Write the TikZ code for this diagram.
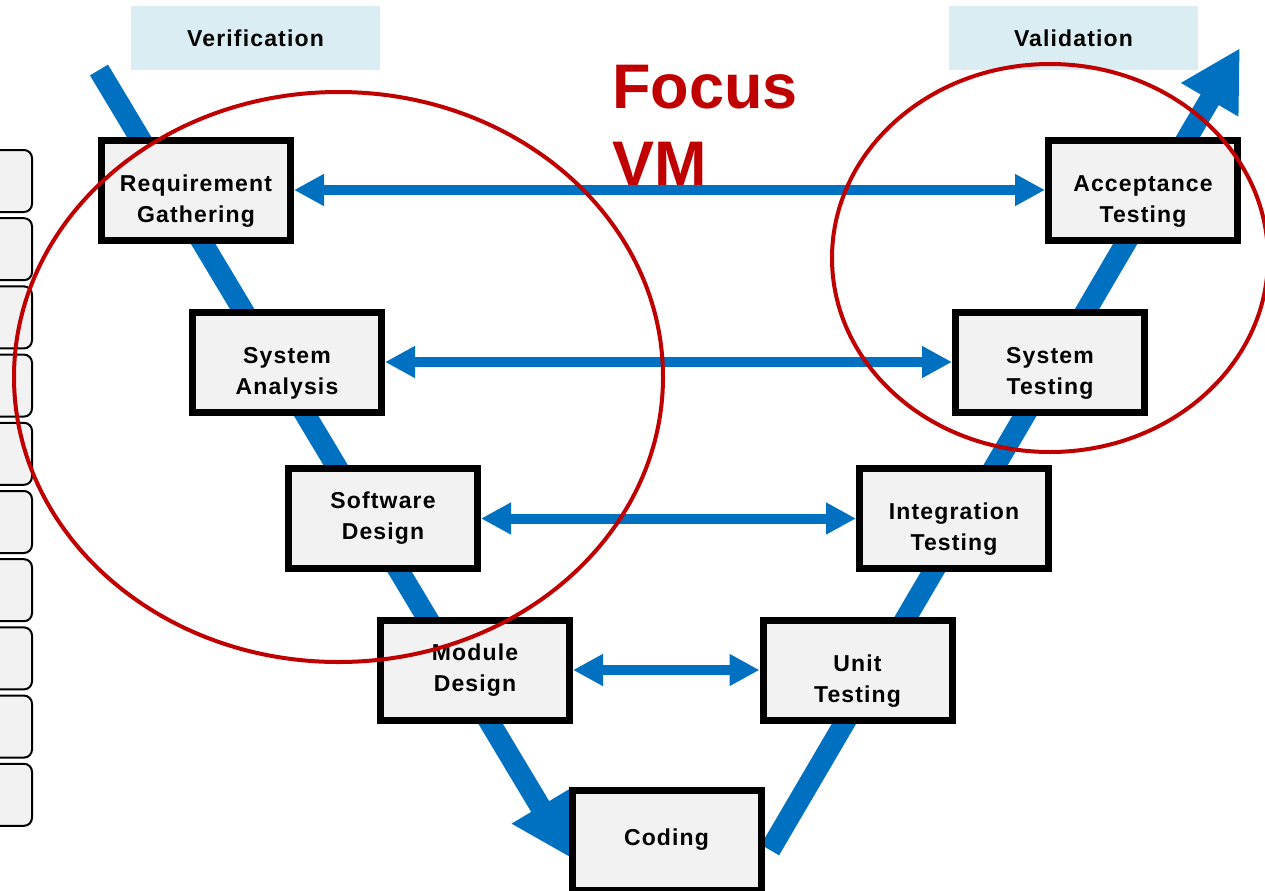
\documentclass[tikz,border=0pt]{standalone}
\usepackage{fontspec}
\setmainfont{Liberation Sans}
\newfontfamily\boxfont{Liberation Sans}[LetterSpace=5.0]
\usetikzlibrary{arrows.meta}
\definecolor{vblue}{HTML}{0070C0}
\definecolor{ringred}{HTML}{C00000}
\definecolor{headblue}{HTML}{DAEDF2}
\definecolor{boxgray}{HTML}{F2F2F2}
\newcommand\lowtext{\rule{0pt}{19pt}}
\begin{document}
\begin{tikzpicture}[x=0.5pt, y=-0.5pt, line join=miter,
	phase/.style={draw=black, line width=3.5pt, fill=boxgray, minimum width=94.5pt, minimum height=50pt,
		inner sep=0pt, align=center, font=\boxfont\bfseries\fontsize{11.5}{15.5}\selectfont},
	side/.style={fill=headblue, minimum width=124.5pt, minimum height=32pt, inner sep=0pt,
		font=\boxfont\bfseries\fontsize{11.5}{16}\selectfont},
	vline/.style={draw=vblue, line width=10.5pt, -{Triangle[length=30pt,width=31pt]}},
	link/.style={draw=vblue, line width=5pt, {Triangle[length=15pt,width=15pt]}-{Triangle[length=15pt,width=15pt]}},
	ring/.style={draw=ringred, line width=2pt},
	tab/.style={draw=black, line width=1pt, fill=boxgray, rounded corners=4pt},
	focus/.style={text=ringred, inner sep=0pt, align=left, font=\bfseries\fontsize{31.5}{38.5}\selectfont}]
		\useasboundingbox (0,0) rectangle (1265,890);
		\clip (0,0) rectangle (1265,890);
		% tabs on the left edge
		\foreach \i in {0,...,9}
			\draw[tab] (-20,150+68.2*\i) rectangle (32,212+68.2*\i);
		% headings
		\node[side] (verif) at (255.5,38) {Verification};
		\node[side] (valid) at (1073.5,38) {Validation};
		% the V
		\coordinate (vstart) at (99,70);
		\coordinate (vdip) at (571,858);
		\coordinate (vrise) at (770,850);
		\coordinate (vend) at (1240,48);
		\draw[vline] (vstart) -- (vdip);
		\draw[vline] (vrise) -- (vend);
		% phases
		\node[phase] (req) at (196,190) {\lowtext Requirement\\Gathering};
		\node[phase] (sysan) at (287,362) {\lowtext System\\Analysis};
		\node[phase] (swd) at (383,518.5) {Software\\Design};
		\node[phase] (modd) at (475,670) {Module\\Design};
		\node[phase] (coding) at (666.5,840) {Coding};
		\node[phase] (unit) at (857.5,670) {\lowtext Unit\\Testing};
		\node[phase] (integ) at (954,518.5) {\lowtext Integration\\Testing};
		\node[phase] (systest) at (1050,362) {\lowtext System\\Testing};
		\node[phase] (accept) at (1143,190) {\lowtext Acceptance\\Testing};
		% verification <-> validation
		\draw[link] (req) -- (accept);
		\draw[link] (sysan) -- (systest);
		\draw[link] (swd) -- (integ);
		\draw[link] (modd) -- (unit);
		% focus
		\node[focus, anchor=north west] (focusvm) at (612,65) {Focus\\VM};
		\draw[ring] (338.5,377) ellipse [x radius=162.25pt, y radius=142.5pt];
		\draw[ring] (1050,258) ellipse [x radius=109pt, y radius=97pt];
\end{tikzpicture}
\end{document}
